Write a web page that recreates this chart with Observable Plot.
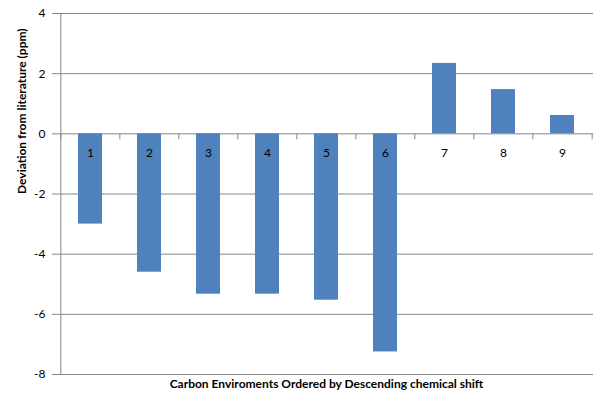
<!DOCTYPE html>
<html>
<head>
<meta charset="utf-8">
<script src="https://cdn.jsdelivr.net/npm/d3@7"></script>
<script src="https://cdn.jsdelivr.net/npm/@observablehq/plot@0.6"></script>
<style>
  body { margin: 0; background: #fff; }
  #chart svg { display: block; }
</style>
</head>
<body>
<div id="chart"></div>
<script>
const categories = ["1", "2", "3", "4", "5", "6", "7", "8", "9"];
const deviations = [-3.0, -4.6, -5.33, -5.33, -5.53, -7.25, 2.34, 1.47, 0.61];
const yTicks = [-8, -6, -4, -2, 0, 2, 4];

const data = categories.map((c, i) => ({ cat: c, value: deviations[i] }));

const W = 607, H = 404;
const ml = 59, mr = 14, mt = 13, mb = 30;
const step = (W - ml - mr) / categories.length;
const grid = "#868686";
const font = "Lato, 'Open Sans', sans-serif";

const chart = Plot.plot({
  width: W,
  height: H,
  marginLeft: ml,
  marginRight: mr,
  marginTop: mt,
  marginBottom: mb,
  style: { fontFamily: font, fontSize: "11px", color: "#000", background: "#fff" },
  x: { domain: categories, paddingInner: 0.59, paddingOuter: 0.295, axis: null },
  y: { domain: [-8, 4], ticks: yTicks, axis: null },
  marks: [
    Plot.ruleY(yTicks, { stroke: grid, strokeWidth: 1 }),
    Plot.barY(data, { x: "cat", y: "value", fill: "#4F81BD" }),
    Plot.ruleX([-8], { x: () => categories[0], y1: -8, y2: 4, dx: -step / 2, stroke: grid }),
    Plot.ruleX(categories, { x: d => d, y1: 0, y2: -0.2, dx: -step / 2, stroke: grid }),
    Plot.ruleX([categories[categories.length - 1]], { x: d => d, y1: 0, y2: -0.2, dx: step / 2, stroke: grid }),
    Plot.axisY({ ticks: yTicks, tickFormat: d => String(d), tickSize: 7, tickPadding: 7, stroke: grid, fontSize: 12, label: null }),
    Plot.text(categories, { x: d => d, y: () => 0, text: d => d, dy: 19, fontSize: 12, fill: "#000" }),
    Plot.text(["Deviation from literature (ppm)"], { frameAnchor: "left", dx: -37, rotate: -90, fontWeight: "bold", fontSize: 12, fill: "#000" }),
    Plot.text(["Carbon Enviroments Ordered by Descending chemical shift"], { frameAnchor: "bottom", dy: 13, fontWeight: "bold", fontSize: 12, fill: "#000" })
  ]
});
document.getElementById("chart").appendChild(chart);
</script>
</body>
</html>
